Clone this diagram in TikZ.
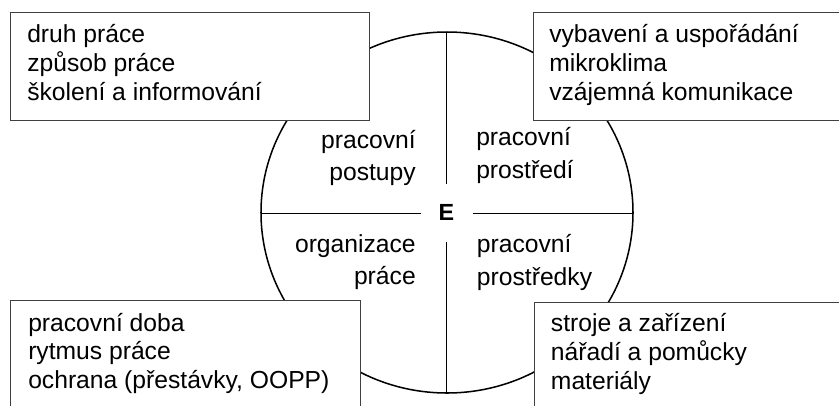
\documentclass[tikz,border=0pt]{standalone}
\usepackage{fontspec}
\setmainfont{Liberation Sans}
\usetikzlibrary{calc}
\def\listbox(#1)(#2){\draw[line width=0.25mm, color=black!75, fill=white] (#1) rectangle (#2);}
\tikzset{
	listtext/.style={font=\fontsize{18.5}{21.4}\selectfont, align=left, inner sep=0pt, anchor=base west},
	lefttext/.style={font=\fontsize{18.5}{23.5}\selectfont, align=right, inner sep=0pt, anchor=base east},
	righttext/.style={font=\fontsize{18.5}{24.5}\selectfont, align=left, inner sep=0pt, anchor=base west}
}

\begin{document}
\begin{tikzpicture}[x=0.75pt, y=-0.75pt]
		%%%%% START %%%%%
		\useasboundingbox (0, 0) rectangle (839, 405);
		\clip (0, 0) rectangle (839, 405);
		
		\draw[line width=0.4mm] (447, 212.5) ellipse (186 and 180.5);
		
		\draw[line width=0.35mm] (261, 213.3) -- (420.7, 213.3);
		\draw[line width=0.35mm] (472.7, 213.3) -- (633, 213.3);
		\draw[line width=0.35mm] (446.7, 32) -- (446.7, 184.3);
		\draw[line width=0.35mm] (446.7, 241.7) -- (446.7, 393);
		
		\node[font=\fontsize{17.5}{17.5}\selectfont\bfseries, inner sep=0pt] (E) at (446.5, 212) {E};
		
		\listbox(10, 12)(369, 120)
		\listbox(533, 12)(850, 120)
		\listbox(10, 300)(360, 415)
		\listbox(534, 302)(850, 415)
		
		% anchor is the baseline of the last line
		\node[listtext] (work) at (27, 100) {druh práce\\způsob práce\\školení a informování};
		\node[listtext] (space) at (549, 100) {vybavení a uspořádání\\mikroklima\\vzájemná komunikace};
		\node[listtext] (time) at (28, 388.3) {pracovní doba\\rytmus práce\\ochrana (přestávky, OOPP)};
		\node[listtext] (tools) at (550.7, 389) {stroje a zařízení\\nářadí a pomůcky\\materiály};
		
		\node[lefttext] (steps) at (416, 180) {pracovní\\postupy};
		\node[righttext] (env) at (476, 178) {pracovní\\prostředí};
		\node[lefttext] (org) at (416, 284.3) {organizace\\práce};
		\node[righttext] (means) at (476.7, 285) {pracovní\\prostředky};
		
		%%%%% END %%%%%
	\end{tikzpicture}
\end{document}
